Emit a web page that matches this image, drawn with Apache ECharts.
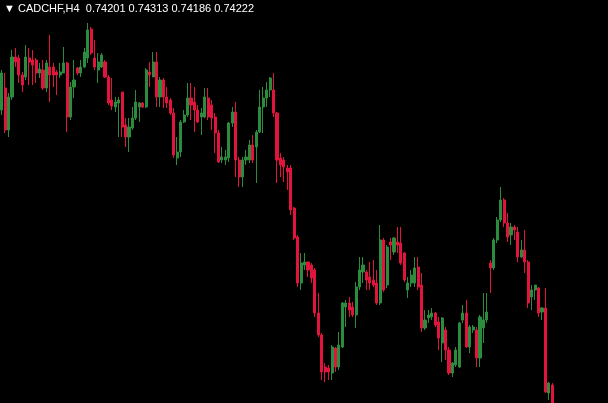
<!DOCTYPE html>
<html>
<head>
<meta charset="utf-8">
<script src="https://cdn.jsdelivr.net/npm/echarts@6/dist/echarts.min.js"></script>
<style>
html,body{margin:0;padding:0;background:#000;}
#c{width:608px;height:403px;}
</style>
</head>
<body>
<div id="c"></div>
<script>
const symbol = 'CADCHF,H4';
const lastBar = ['0.74201', '0.74313', '0.74186', '0.74222'];

const opens = [0.75650,0.75760,0.75550,0.75715,0.75915,0.75910,0.75825,0.75815,0.75910,0.75900,
0.75900,0.75835,0.75850,0.75760,0.75865,0.75865,0.75840,0.75825,0.75835,0.75885,
0.75615,0.75765,0.75860,0.75835,0.75865,0.75910,0.76055,0.75910,0.75850,0.75865,
0.75890,0.75815,0.75700,0.75665,0.75685,0.75740,0.75575,0.75515,0.75560,0.75610,
0.75665,0.75685,0.75665,0.75840,0.75815,0.75890,0.75715,0.75800,0.75715,0.75700,
0.75635,0.75410,0.75440,0.75590,0.75625,0.75710,0.75690,0.75650,0.75615,0.75615,
0.75710,0.75675,0.75615,0.75535,0.75400,0.75400,0.75410,0.75585,0.75640,0.75400,
0.75315,0.75400,0.75400,0.75475,0.75465,0.75540,0.75665,0.75710,0.75750,0.75750,
0.75635,0.75410,0.75400,0.75360,0.75360,0.75160,0.75015,0.74785,0.74875,0.74890,
0.74875,0.74850,0.74635,0.74525,0.74365,0.74360,0.74335,0.74460,0.74365,0.74465,
0.74665,0.74685,0.74665,0.74625,0.74765,0.74840,0.74840,0.74815,0.74800,0.74785,
0.74685,0.75000,0.74775,0.74990,0.74940,0.74990,0.74985,0.74935,0.74750,0.74785,
0.74785,0.74865,0.74775,0.74560,0.74610,0.74615,0.74635,0.74590,0.74485,0.74550,
0.74450,0.74335,0.74375,0.74365,0.74600,0.74635,0.74465,0.74550,0.74550,0.74410,
0.74560,0.74600,0.74885,0.74860,0.75000,0.75100,0.75200,0.75085,0.75025,0.75065,
0.75040,0.74915,0.74950,0.74890,0.74715,0.74750,0.74760,0.74640,0.74660,0.74235,
0.74275];

const highs = [0.75850,0.75835,0.75735,0.75950,0.75960,0.75925,0.75840,0.75975,0.75960,0.75950,
0.75910,0.75885,0.75900,0.75900,0.76025,0.75885,0.75850,0.75885,0.75965,0.75890,
0.75790,0.75900,0.75865,0.75900,0.75960,0.76085,0.76065,0.76000,0.75935,0.75935,
0.75900,0.75825,0.75810,0.75715,0.75715,0.75740,0.75610,0.75610,0.75665,0.75750,
0.75690,0.75690,0.75860,0.75890,0.75940,0.75940,0.75815,0.75810,0.75765,0.75710,
0.75660,0.75515,0.75600,0.75650,0.75785,0.75785,0.75765,0.75675,0.75660,0.75760,
0.75760,0.75700,0.75635,0.75550,0.75465,0.75450,0.75590,0.75665,0.75690,0.75415,
0.75415,0.75450,0.75500,0.75525,0.75550,0.75750,0.75765,0.75790,0.75815,0.75835,
0.75640,0.75435,0.75415,0.75375,0.75375,0.75165,0.75025,0.74935,0.74935,0.74890,
0.74885,0.74860,0.74735,0.74535,0.74385,0.74375,0.74475,0.74465,0.74540,0.74690,
0.74700,0.74715,0.74690,0.74790,0.74915,0.74915,0.74850,0.74890,0.74900,0.74850,
0.75075,0.75010,0.74975,0.75010,0.75015,0.75065,0.75065,0.74940,0.74815,0.74850,
0.74915,0.74915,0.74835,0.74650,0.74650,0.74660,0.74640,0.74615,0.74615,0.74565,
0.74465,0.74390,0.74465,0.74590,0.74675,0.74700,0.74575,0.74575,0.74565,0.74625,
0.74735,0.74735,0.74900,0.75010,0.75115,0.75265,0.75210,0.75135,0.75085,0.75075,
0.75065,0.75000,0.75050,0.74900,0.74775,0.74775,0.74765,0.74665,0.74760,0.74290,
0.74285];

const lows = [0.75625,0.75535,0.75515,0.75700,0.75865,0.75785,0.75740,0.75800,0.75775,0.75775,
0.75785,0.75810,0.75750,0.75740,0.75690,0.75765,0.75725,0.75810,0.75835,0.75540,
0.75600,0.75710,0.75825,0.75815,0.75860,0.75885,0.75925,0.75850,0.75785,0.75860,
0.75810,0.75675,0.75650,0.75640,0.75515,0.75515,0.75465,0.75440,0.75550,0.75600,
0.75590,0.75660,0.75660,0.75765,0.75815,0.75665,0.75665,0.75660,0.75660,0.75625,
0.75410,0.75375,0.75415,0.75585,0.75615,0.75600,0.75540,0.75585,0.75525,0.75610,
0.75600,0.75550,0.75435,0.75385,0.75385,0.75375,0.75390,0.75565,0.75315,0.75265,
0.75265,0.75375,0.75385,0.75385,0.75285,0.75535,0.75535,0.75665,0.75715,0.75615,
0.75285,0.75315,0.75290,0.75250,0.75125,0.75000,0.74765,0.74750,0.74850,0.74815,
0.74785,0.74615,0.74515,0.74300,0.74290,0.74300,0.74300,0.74340,0.74350,0.74460,
0.74565,0.74615,0.74615,0.74560,0.74750,0.74785,0.74750,0.74750,0.74765,0.74675,
0.74675,0.74740,0.74760,0.74900,0.74925,0.74935,0.74875,0.74790,0.74710,0.74765,
0.74765,0.74750,0.74540,0.74550,0.74585,0.74600,0.74565,0.74450,0.74390,0.74400,
0.74325,0.74315,0.74365,0.74360,0.74585,0.74460,0.74435,0.74535,0.74365,0.74365,
0.74485,0.74585,0.74735,0.74850,0.74985,0.75090,0.75065,0.74990,0.74975,0.75000,
0.74890,0.74910,0.74835,0.74660,0.74650,0.74700,0.74615,0.74600,0.74235,0.74200,
0.74125];

const closes = [0.75835,0.75550,0.75715,0.75915,0.75890,0.75825,0.75775,0.75915,0.75890,0.75875,
0.75835,0.75855,0.75760,0.75885,0.75825,0.75825,0.75825,0.75840,0.75885,0.75615,
0.75765,0.75800,0.75835,0.75865,0.75940,0.76050,0.75935,0.75865,0.75890,0.75925,
0.75815,0.75685,0.75670,0.75690,0.75700,0.75565,0.75515,0.75565,0.75610,0.75690,
0.75685,0.75665,0.75850,0.75825,0.75890,0.75715,0.75800,0.75715,0.75685,0.75635,
0.75425,0.75440,0.75590,0.75625,0.75710,0.75675,0.75650,0.75590,0.75635,0.75715,
0.75615,0.75610,0.75535,0.75390,0.75415,0.75415,0.75585,0.75640,0.75400,0.75315,
0.75400,0.75415,0.75475,0.75400,0.75540,0.75665,0.75710,0.75750,0.75810,0.75635,
0.75400,0.75375,0.75365,0.75340,0.75150,0.75010,0.74785,0.74885,0.74890,0.74850,
0.74810,0.74635,0.74525,0.74340,0.74340,0.74340,0.74465,0.74365,0.74475,0.74685,
0.74685,0.74650,0.74625,0.74765,0.74850,0.74875,0.74800,0.74785,0.74775,0.74685,
0.75000,0.74750,0.74965,0.74975,0.75010,0.74975,0.74885,0.74800,0.74785,0.74825,
0.74860,0.74765,0.74560,0.74600,0.74625,0.74635,0.74575,0.74510,0.74610,0.74450,
0.74335,0.74385,0.74450,0.74585,0.74635,0.74465,0.74565,0.74565,0.74410,0.74615,
0.74600,0.74640,0.74860,0.75000,0.75100,0.75200,0.75085,0.75015,0.75065,0.75050,
0.74915,0.74950,0.74890,0.74685,0.74750,0.74775,0.74635,0.74660,0.74240,0.74285,
0.74150];

const categories = opens.map((_, i) => 'Bar ' + (i + 1));
const candles = opens.map((o, i) => [o, closes[i], lows[i], highs[i]]);

const chart = echarts.init(document.getElementById('c'), null, {renderer: 'canvas'});
chart.setOption({
  backgroundColor: '#000000',
  animation: false,
  title: {
    text: '\u25BC ' + symbol + '  ' + lastBar.join(' '),
    left: 4,
    top: 3,
    padding: 0,
    textStyle: {color: '#ffffff', fontSize: 11, fontWeight: 'normal', fontFamily: 'Liberation Sans, DejaVu Sans, sans-serif'}
  },
  grid: {left: 0, right: 54, top: 0, bottom: 0},
  xAxis: {
    type: 'category',
    data: categories,
    boundaryGap: true,
    show: false
  },
  yAxis: {
    type: 'value',
    min: 0.74185,
    max: 0.762,
    show: false,
    splitLine: {show: false}
  },
  series: [{
    type: 'candlestick',
    data: candles,
    barWidth: 2.6,
    clip: true,
    itemStyle: {
      color: '#2a8c3c',
      color0: '#e0143c',
      borderColor: '#2a8c3c',
      borderColor0: '#e0143c',
      borderWidth: 1
    }
  }]
});
</script>
</body>
</html>
